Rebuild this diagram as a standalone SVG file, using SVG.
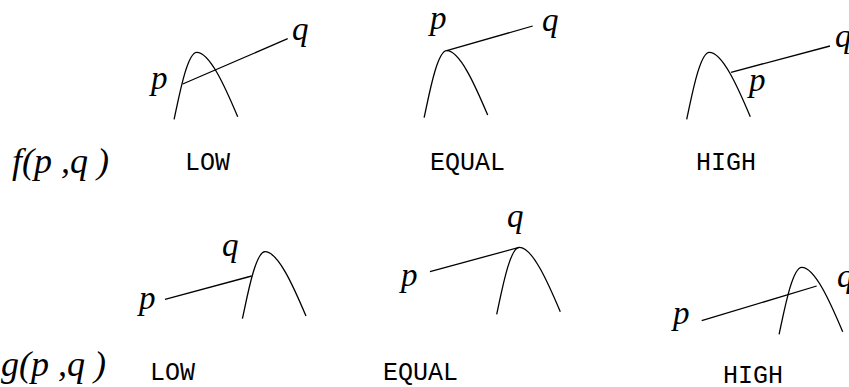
<svg xmlns="http://www.w3.org/2000/svg" xmlns:xlink="http://www.w3.org/1999/xlink" width="849" height="387" viewBox="0 0 849 387">
<style>
.c{fill:none;stroke:#000;stroke-width:1.3}
.l{stroke:#000;stroke-width:1.3}
.v{font-family:"Liberation Serif","Times New Roman",serif;font-style:italic;font-size:33px;fill:#000}
.r{font-size:36px}
.m{font-family:"Liberation Mono","Courier New",monospace;font-size:25px;fill:#000}
</style>
<defs>
<path id="hump" d="M-22.6,67 C-18.5,49 -10,0 0,0 C13,0 28,33.6 41,64.4"/>
</defs>
<rect width="849" height="387" fill="#fff"/>
<g id="rowlabels">
<text class="v r" x="12" y="173">f(p ,q )</text>
<text class="v r" x="1" y="376">g(p ,q )</text>
</g>
<g id="f-low">
<use xlink:href="#hump" class="c" transform="translate(196.7,52.3)"/>
<line class="l" x1="182.7" y1="84" x2="287.7" y2="38.7"/>
<text class="v" x="151" y="89">p</text>
<text class="v" x="292" y="40">q</text>
<text class="m" x="185" y="170">LOW</text>
</g>
<g id="f-equal">
<use xlink:href="#hump" class="c" transform="translate(446.7,50.7)"/>
<line class="l" x1="446.7" y1="50.7" x2="532.7" y2="26"/>
<text class="v" x="430" y="29">p</text>
<text class="v" x="542" y="30.5">q</text>
<text class="m" x="430" y="170">EQUAL</text>
</g>
<g id="f-high">
<use xlink:href="#hump" class="c" transform="translate(709.3,52.3)"/>
<line class="l" x1="731" y1="72.3" x2="830" y2="46"/>
<text class="v" x="749" y="90.5">p</text>
<text class="v" x="835" y="47">q</text>
<text class="m" x="696" y="170">HIGH</text>
</g>
<g id="g-low">
<use xlink:href="#hump" class="c" transform="translate(265,251.7)"/>
<line class="l" x1="165" y1="299.3" x2="251.7" y2="276"/>
<text class="v" x="139" y="309">p</text>
<text class="v" x="222" y="255.5">q</text>
<text class="m" x="150" y="380">LOW</text>
</g>
<g id="g-equal">
<use xlink:href="#hump" class="c" transform="translate(519.3,247.3)"/>
<line class="l" x1="430" y1="271.7" x2="519.3" y2="247.3"/>
<text class="v" x="401" y="285.5">p</text>
<text class="v" x="507" y="227">q</text>
<text class="m" x="383" y="380">EQUAL</text>
</g>
<g id="g-high">
<use xlink:href="#hump" class="c" transform="translate(801.7,267.3)"/>
<line class="l" x1="701.7" y1="320.7" x2="816.7" y2="286"/>
<text class="v" x="673" y="324">p</text>
<text class="v" x="837" y="287">q</text>
<text class="m" x="723" y="383">HIGH</text>
</g>
</svg>
